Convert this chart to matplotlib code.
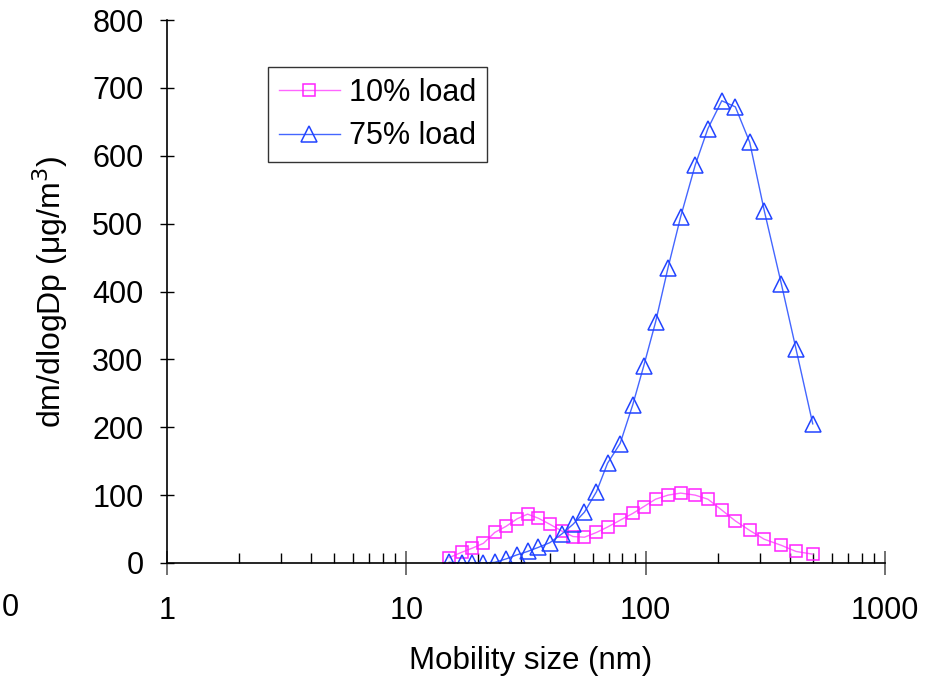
import numpy as np
import matplotlib.pyplot as plt
from matplotlib.ticker import FixedLocator, FixedFormatter

plt.rcParams['font.family'] = ['Liberation Sans', 'DejaVu Sans']

# mobility diameter bins (nm)
size_nm = [15.1, 17.1, 18.9, 21.0, 23.4, 26.1, 29.0, 32.1, 35.6, 39.8,
           44.7, 49.7, 55.5, 62.3, 69.3, 78.2, 88.3, 98.1, 110, 124,
           140, 161, 182, 208, 237, 272, 313, 369, 425, 499]

# dm/dlogDp (ug/m3)
load_10 = [8, 16, 22, 29, 45, 54, 65, 72, 66, 57,
           47, 39, 38, 45, 53, 63, 73, 83, 94, 100,
           103, 100, 94, 78, 62, 48, 35, 26, 17, 13]
load_75 = [1, 0, 0, 0, 1, 6, 12, 17, 23, 30,
           43, 57, 75, 105, 147, 176, 233, 290, 355, 435,
           510, 586, 640, 681, 672, 620, 519, 411, 315, 205]

x_ticks = [1, 10, 100, 1000]
x_ticklabels = ['1', '10', '100', '1000']

fig = plt.figure(figsize=(9.4, 6.78), dpi=100)
ax = fig.add_axes([167/940, 1-563/678, 718/940, 543/678])

ax.plot(size_nm, load_10, color='#ff66ff', lw=1, marker='s', ms=8.6,
        mfc='none', mec='#ff22ff', mew=1.1, label='10% load')
ax.plot(size_nm, load_75, color='#4466ff', lw=1, marker='^', ms=11.5,
        mfc='none', mec='#2244ff', mew=1.1, label='75% load')

ax.set_xscale('log')
ax.set_xlim(1, 1000)
ax.set_ylim(0, 800)
ax.set_yticks(np.arange(0, 801, 100))
ax.xaxis.set_major_locator(FixedLocator(x_ticks))
ax.xaxis.set_major_formatter(FixedFormatter(x_ticklabels))

for s in ['top', 'right']:
    ax.spines[s].set_visible(False)
ax.spines['left'].set_linewidth(1.2)
ax.spines['bottom'].set_linewidth(1.2)

ax.tick_params(axis='y', which='major', direction='inout', length=10,
               width=1, labelsize=22, pad=12)
ax.tick_params(axis='x', which='major', direction='inout', length=17,
               width=1.3, color='#666666', labelsize=22, pad=15)
ax.tick_params(axis='x', which='minor', direction='in', length=7, width=1)

ax.set_xlabel('Mobility size (nm)', fontsize=22.5)
ax.xaxis.set_label_coords(0.507, -0.152)
ax.set_ylabel('dm/dlogDp (μg/m$^3$)', fontsize=23, labelpad=16)

fig.text(10/940, 1-608/678, '0', fontsize=22, ha='center', va='center')

leg = ax.legend(loc='upper left', bbox_to_anchor=((268-167)/718, (563-67)/543),
                borderaxespad=0, fontsize=22, frameon=True, fancybox=False,
                handlelength=2.0, handletextpad=0.3, labelspacing=0.45,
                borderpad=0.35)
leg.get_frame().set_edgecolor('black')
leg.get_frame().set_linewidth(1)

fig.savefig('out.png', dpi=100)
